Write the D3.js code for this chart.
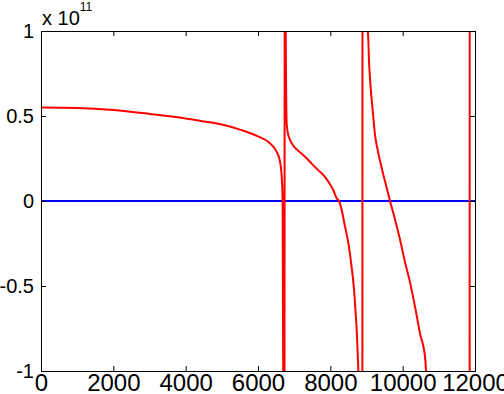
<!DOCTYPE html>
<html>
<head>
<meta charset="utf-8">
<script src="https://cdn.jsdelivr.net/npm/d3@7"></script>
<style>
  body { margin: 0; background: #fff; }
  text { font-family: "Liberation Sans", Arial, Helvetica, sans-serif; fill: #000; }
  .tick line { stroke: #000; }
</style>
</head>
<body>
<div id="chart"></div>
<script>
// x values (Hz) and response (x 1e11); +-6 mark the poles (off-plot)
const freq = [0, 1000, 2000, 3000, 4000, 4500, 5000, 5500, 6000, 6300, 6500, 6600, 6650, 6680, 6700, 6720,
  6750, 6765, 6775, 6795, 6840, 6885, 6975, 7115, 7300, 7485, 7670, 7805, 7945, 8080, 8175, 8240, 8315, 8405,
  8500, 8590, 8655, 8700, 8730, 8760, 8775, 8800, 8880,
  8895, 8980, 9010, 9050, 9070, 9100, 9145, 9190, 9235, 9280, 9375, 9465, 9560, 9650, 9790, 9930, 10065,
  10205, 10340, 10480, 10620, 10645, 10700, 11845,
  11860, 12000];
const resp = [0.55, 0.547, 0.535, 0.512, 0.485, 0.468, 0.45, 0.42, 0.38, 0.345, 0.295, 0.24, 0.16, 0.02, -1.2, -6,
  6, 1.1, 0.72, 0.45, 0.385, 0.36, 0.325, 0.295, 0.26, 0.22, 0.18, 0.153, 0.114, 0.065, 0.016, 0, -0.053, -0.15,
  -0.25, -0.39, -0.52, -0.66, -0.76, -0.92, -1.0, -1.4, -6,
  6, 1.4, 1.1, 0.95, 0.82, 0.71, 0.59, 0.49, 0.39, 0.33, 0.235, 0.155, 0.076, 0, -0.11, -0.23, -0.36,
  -0.48, -0.62, -0.78, -0.92, -1.0, -1.4, -6,
  6, 2];
// zero reference line
const zeroX = [0, 12000];
const zeroY = [0, 0];

const xTicks = [0, 2000, 4000, 6000, 8000, 10000, 12000];
const yTicks = [-1, -0.5, 0, 0.5, 1];

const svgWidth = 504;
const svgHeight = 394;
const margin = { top: 31, right: 29, bottom: 23, left: 41 };
const width = svgWidth - margin.left - margin.right;
const height = svgHeight - margin.top - margin.bottom;

const svg = d3.select("#chart")
  .append("svg")
  .attr("width", svgWidth)
  .attr("height", svgHeight);

const chartGroup = svg.append("g")
  .attr("transform", `translate(${margin.left}, ${margin.top})`);

const x = d3.scaleLinear().domain([0, 12000]).range([0, width]);
const y = d3.scaleLinear().domain([-1, 1]).range([height, 0]);

svg.append("defs").append("clipPath")
  .attr("id", "plotClip")
  .append("rect")
  .attr("width", width)
  .attr("height", height);

const line = d3.line()
  .x(d => x(d[0]))
  .y(d => y(d[1]))
  .curve(d3.curveMonotoneX);

const plot = chartGroup.append("g").attr("clip-path", "url(#plotClip)");

plot.append("path")
  .datum(zeroX.map((v, i) => [v, zeroY[i]]))
  .attr("d", line)
  .attr("fill", "none")
  .attr("stroke", "#0000ff")
  .attr("stroke-width", 2);

plot.append("path")
  .datum(freq.map((v, i) => [v, resp[i]]))
  .attr("d", line)
  .attr("fill", "none")
  .attr("stroke", "#ff0000")
  .attr("stroke-width", 2);

// axes with inward ticks on all four sides
const bottomAxis = chartGroup.append("g")
  .attr("transform", `translate(0, ${height})`)
  .call(d3.axisBottom(x).tickValues(xTicks).tickSize(-5).tickPadding(3).tickFormat(d3.format("d")));
const topAxis = chartGroup.append("g")
  .call(d3.axisTop(x).tickValues(xTicks).tickSize(-5).tickFormat(""));
const leftAxis = chartGroup.append("g")
  .call(d3.axisLeft(y).tickValues(yTicks).tickSize(-5).tickPadding(7).tickFormat(d => String(d)));
const rightAxis = chartGroup.append("g")
  .attr("transform", `translate(${width}, 0)`)
  .call(d3.axisRight(y).tickValues(yTicks).tickSize(-5).tickFormat(""));

[topAxis, rightAxis].forEach(a => a.select(".domain").remove());
bottomAxis.select(".domain").remove();
leftAxis.select(".domain").remove();
bottomAxis.selectAll("text").style("font-size", "24px");
leftAxis.selectAll("text").style("font-size", "20px");

chartGroup.append("rect")
  .attr("width", width)
  .attr("height", height)
  .attr("fill", "none")
  .attr("stroke", "#000")
  .attr("stroke-width", 1)
  .attr("shape-rendering", "crispEdges");

// exponent label
const expo = svg.append("text")
  .attr("x", 42)
  .attr("y", 25)
  .style("font-size", "20px");
expo.append("tspan").text("x 10");
expo.append("tspan").attr("dy", -14).style("font-size", "12px").text("11");
</script>
</body>
</html>
